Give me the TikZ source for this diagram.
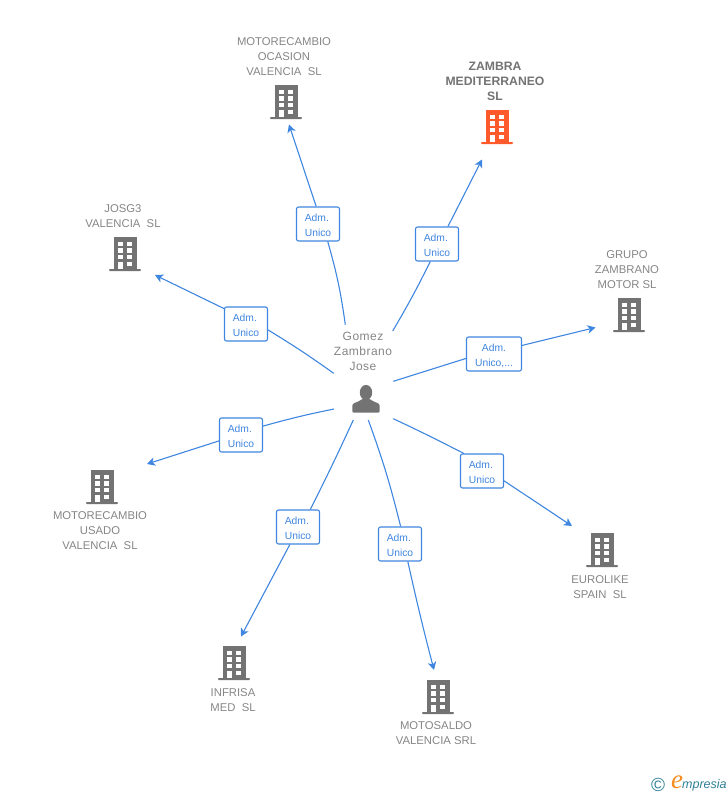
\documentclass[tikz,border=0pt]{standalone}
\usepackage{fontspec}
\setmainfont{Liberation Sans}
\newfontfamily\logoserif{Liberation Serif}
\usetikzlibrary{arrows.meta}
\definecolor{linkblue}{HTML}{3F86E0}
\definecolor{textgray}{HTML}{858585}
\definecolor{icongray}{HTML}{737373}
\definecolor{mainorange}{HTML}{FF5A2B}
\definecolor{logoteal}{HTML}{2F7F96}
\definecolor{logoorange}{HTML}{F58A1F}
\newcommand{\admlift}{\rule{0pt}{11pt}}
\tikzset{
    firm/.style={text=textgray, align=center, inner sep=0pt, font=\fontsize{11.3}{15}\selectfont},
    admbox/.style={draw=linkblue, fill=white, rounded corners=2pt, line width=1.1pt, text=linkblue, minimum width=43pt, minimum height=34pt, inner sep=0pt, font=\fontsize{10.3}{15}\selectfont},
    link/.style={draw=linkblue, line width=1.1pt},
    linkend/.style={link, -{Stealth[length=8pt,width=8.5pt,inset=2.2pt]}},
    pics/building/.style={code={
        \fill[pic actions] (-11.5,0) rectangle (11.5,32);
        \fill[pic actions, rounded corners=0.8pt] (-16,32) rectangle (16,34);
        \fill[white] (-7.5,4.5) rectangle (-2.4,9);
        \fill[white] (2.2,4.5) rectangle (7.4,9);
        \fill[white] (-7.5,11.3) rectangle (-2.4,15.8);
        \fill[white] (2.2,11.3) rectangle (7.4,15.8);
        \fill[white] (-7.5,18) rectangle (-2.4,22.4);
        \fill[white] (2.2,18) rectangle (7.4,22.4);
        \fill[white] (-7.5,24.8) rectangle (-2.4,32);
        \fill[white] (2.2,24.8) rectangle (7.4,29);
    }}
}
\begin{document}
\begin{tikzpicture}[x=1pt,y=-1pt]
    \useasboundingbox (0,0) rectangle (728,795);
    % company names
    \node[firm] (ocasion) at (284,56.7) {MOTORECAMBIO\\OCASION\\VALENCIA~~SL};
    \node[firm, text=icongray, font=\bfseries\fontsize{12.2}{15}\selectfont] (zambra) at (495,81.5) {ZAMBRA\\MEDITERRANEO\\SL};
    \node[firm] (grupo) at (627,269.7) {GRUPO\\ZAMBRANO\\MOTOR SL};
    \node[firm] (josg) at (123,215.7) {JOSG3\\VALENCIA~~SL};
    \node[firm] (usado) at (100,530.7) {MOTORECAMBIO\\USADO\\VALENCIA~~SL};
    \node[firm] (eurolike) at (600,586.7) {EUROLIKE\\SPAIN~~SL};
    \node[firm] (infrisa) at (233,699.7) {INFRISA\\MED~~SL};
    \node[firm] (motosaldo) at (436,733) {MOTOSALDO\\VALENCIA SRL};
    \node[firm, font=\fontsize{12}{15}\selectfont\addfontfeature{LetterSpace=4}] (gomez) at (363,351.5) {Gomez\\Zambrano\\Jose};
    % buildings
    \pic[fill=icongray] at (286,85) {building};
    \pic[fill=mainorange] at (497,110) {building};
    \pic[fill=icongray] at (629,298) {building};
    \pic[fill=icongray] at (125,237) {building};
    \pic[fill=icongray] at (102,470) {building};
    \pic[fill=icongray] at (602,533) {building};
    \pic[fill=icongray] at (234,646) {building};
    \pic[fill=icongray] at (438,680) {building};
    % person
    \fill[icongray] (366,392.5) ellipse (6.2 and 7.6);
    \fill[icongray, rounded corners=1pt] (352.3,412.5) -- (352.3,406) .. controls (353,402.5) and (358,402.5) .. (362,399) -- (370,399) .. controls (374,402.5) and (379,402.5) .. (379.7,406) -- (379.7,412.5) -- cycle;
    % boxes
    \node[admbox, align=left] (boxocasion) at (318,224) {\admlift Adm.\\Unico};
    \node[admbox, align=left] (boxzambra) at (437,244) {\admlift Adm.\\Unico};
    \node[admbox, align=center, minimum width=55pt] (boxgrupo) at (494,354) {\admlift Adm.\\Unico,...};
    \node[admbox, align=left] (boxjosg) at (246,324) {\admlift Adm.\\Unico};
    \node[admbox, align=left] (boxusado) at (241,435) {\admlift Adm.\\Unico};
    \node[admbox, align=left] (boxeuro) at (482,471) {\admlift Adm.\\Unico};
    \node[admbox, align=left] (boxinfrisa) at (298,527) {\admlift Adm.\\Unico};
    \node[admbox, align=left] (boxmoto) at (400,544) {\admlift Adm.\\Unico};
    % free ends
    \coordinate (startocasion) at (345.3,324.7);
    \coordinate (endocasion) at (289,124.5);
    \coordinate (startzambra) at (392.7,331);
    \coordinate (endzambra) at (482,159.5);
    \coordinate (startgrupo) at (393.3,381.3);
    \coordinate (endgrupo) at (595.5,327.5);
    \coordinate (startjosg) at (333.7,373.3);
    \coordinate (endjosg) at (155,275);
    \coordinate (startusado) at (334,409);
    \coordinate (endusado) at (147,464);
    \coordinate (starteuro) at (393.3,418.7);
    \coordinate (endeuro) at (572,526);
    \coordinate (startinfrisa) at (353.3,420);
    \coordinate (endinfrisa) at (241,636.5);
    \coordinate (startmoto) at (368.3,420);
    \coordinate (endmoto) at (434,670);
    % links
    \draw[link] (startocasion) to[bend right=4] (boxocasion.-61.7);
    \draw[linkend] (boxocasion.96.7) -- (endocasion);
    \draw[link] (startzambra) to[bend right=2] (boxzambra.-111.6);
    \draw[linkend] (boxzambra.58) -- (endzambra);
    \draw[link] (startgrupo) -- (boxgrupo.189.8);
    \draw[linkend] (boxgrupo.17.6) -- (endgrupo);
    \draw[link] (startjosg) to[bend right=2] (boxjosg.-15.5);
    \draw[linkend] (boxjosg.145.7) -- (endjosg);
    \draw[link] (startusado) to[bend right=2] (boxusado.22.5);
    \draw[linkend] (boxusado.195.5) -- (endusado);
    \draw[link] (starteuro) to[bend left=1] (boxeuro.136.5);
    \draw[linkend] (boxeuro.-24.4) -- (endeuro);
    \draw[link] (startinfrisa) to[bend left=1] (boxinfrisa.55.9);
    \draw[linkend] (boxinfrisa.-115.2) -- (endinfrisa);
    \draw[link] (startmoto) to[bend left=3] (boxmoto.88);
    \draw[linkend] (boxmoto.-66.8) to[bend right=1] (endmoto);
    % logo
    \node[inner sep=0pt, text=logoteal, font=\fontsize{19}{19}\selectfont] (logoc) at (658,785) {©};
    \node[inner sep=0pt, text=logoorange, font=\logoserif\itshape\fontsize{27}{27}\selectfont] (logoe) at (677,782) {e};
    \node[inner sep=0pt, text=logoteal, font=\itshape\fontsize{12.5}{12.5}\selectfont, anchor=west] (logotext) at (682,785) {mpresia};
\end{tikzpicture}
\end{document}
